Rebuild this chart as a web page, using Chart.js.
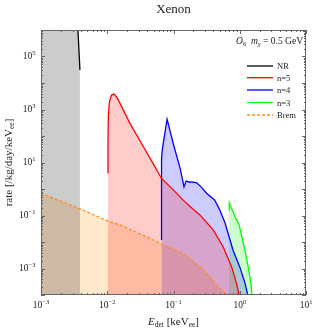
<!DOCTYPE html>
<html>
<head>
<meta charset="utf-8">
<script src="https://cdn.jsdelivr.net/npm/chart.js@4.4.1/dist/chart.umd.min.js"></script>
<style>
  html, body { margin: 0; padding: 0; background: #fff; }
  #wrap { width: 316px; height: 329px; }
</style>
</head>
<body>
<div id="wrap"><canvas id="rateChart" width="316" height="329"></canvas></div>
<script>
// ===== DATA =====
const xTickExps = [-3, -2, -1, 0, 1];
const yTickExps = [5, 3, 1, -1, -3];

const nrE    = [0.001, 0.0034, 0.00361, 0.00387];
const nrRate = [1e8, 3e6, 1e6, 3.1e4];

const n5E    = [0.0102, 0.01025, 0.0104, 0.0108, 0.0116, 0.0126, 0.0141, 0.022, 0.035, 0.049, 0.066, 0.10, 0.14, 0.20, 0.25, 0.40, 0.56, 0.75, 0.89, 0.98];
const n5Rate = [4.1, 60, 600, 2000, 3500, 3800, 2800, 300, 40, 9.3, 2.5, 0.91, 0.38, 0.17, 0.105, 0.028, 0.0066, 0.0012, 0.00028, 0.0001];

const n4E    = [0.066, 0.066, 0.0676, 0.080, 0.099, 0.126, 0.144, 0.155, 0.175, 0.19, 0.224, 0.265, 0.316, 0.42, 0.50, 0.60, 0.79, 1.0, 1.2, 1.32];
const n4Rate = [0.012, 13.5, 30, 430, 52, 6.0, 1.2, 2.0, 1.8, 1.85, 1.7, 1.15, 0.69, 0.38, 0.16, 0.052, 0.005, 0.00115, 0.00028, 0.0001];

const n3E    = [0.69, 0.695, 0.79, 0.89, 0.98, 1.065, 1.19, 1.34, 1.45, 1.53];
const n3Rate = [0.16, 0.30, 0.14, 0.068, 0.044, 0.018, 0.005, 0.00118, 0.00037, 0.0001];

const bremE    = [0.001, 0.0039, 0.0102, 0.0155, 0.044, 0.062, 0.14, 0.25, 0.355, 0.472, 0.63];
const bremRate = [0.69, 0.178, 0.062, 0.044, 0.0138, 0.0089, 0.0037, 0.00117, 0.00049, 0.000204, 0.0001];

const SERIF = '"Liberation Serif", "DejaVu Serif", serif';

function toPts(xs, ys) {
  return xs.map((v, i) => ({ x: v, y: ys[i] }));
}

function series(label, xs, ys, color, fillColor, dash) {
  return {
    label,
    data: toPts(xs, ys),
    showLine: true,
    borderColor: color,
    backgroundColor: fillColor,
    borderWidth: 1.3,
    borderDash: dash || [],
    pointRadius: 0,
    fill: 'start',
    tension: 0
  };
}

// draw a run of text pieces (for sub/superscripts)
function drawRuns(ctx, runs, x, y, align) {
  let w = 0;
  runs.forEach(r => { ctx.font = r.f; r.w = ctx.measureText(r.t).width; w += r.w; });
  let cx = align === 'center' ? x - w / 2 : align === 'right' ? x - w : x;
  ctx.textAlign = 'left';
  ctx.textBaseline = 'alphabetic';
  runs.forEach(r => { ctx.font = r.f; ctx.fillText(r.t, cx, y + (r.dy || 0)); cx += r.w; });
}

function powRuns(e) {
  return [
    { t: '10', f: '9.5px ' + SERIF },
    { t: e < 0 ? '\u2212' + (-e) : String(e), f: '6.5px ' + SERIF, dy: -4 }
  ];
}

// ===== FRAME, TICKS AND TEXT =====
const frameTicks = {
  id: 'frameTicks',
  afterDraw(chart) {
    const { ctx, chartArea: a, scales: { x, y } } = chart;
    ctx.save();
    ctx.strokeStyle = '#666';
    ctx.lineWidth = 1;
    ctx.strokeRect(a.left + 0.5, a.top + 0.5, a.right - a.left - 1, a.bottom - a.top - 1);

    ctx.beginPath();
    for (let d = -3; d <= 1; d++) {
      for (let k = 1; k <= 9; k++) {
        const v = k * Math.pow(10, d);
        if (v > 10) break;
        const px = Math.round(x.getPixelForValue(v)) + 0.5;
        const len = k === 1 ? 4 : 2;
        ctx.moveTo(px, a.bottom); ctx.lineTo(px, a.bottom - len);
        ctx.moveTo(px, a.top); ctx.lineTo(px, a.top + len);
      }
    }
    for (let d = -4; d <= 6; d++) {
      for (let k = 1; k <= 9; k++) {
        const v = k * Math.pow(10, d);
        if (v > 1e6) break;
        const py = Math.round(y.getPixelForValue(v)) + 0.5;
        const len = k === 1 ? 4 : 2;
        ctx.moveTo(a.left, py); ctx.lineTo(a.left + len, py);
        ctx.moveTo(a.right, py); ctx.lineTo(a.right - len, py);
      }
    }
    ctx.stroke();

    ctx.fillStyle = '#222';
    xTickExps.forEach(e => {
      drawRuns(ctx, powRuns(e), x.getPixelForValue(Math.pow(10, e)), a.bottom + 12.5, 'center');
    });
    yTickExps.forEach(e => {
      drawRuns(ctx, powRuns(e), a.left - 5.5, y.getPixelForValue(Math.pow(10, e)) + 2, 'right');
    });

    // title
    drawRuns(ctx, [{ t: 'Xenon', f: '13px ' + SERIF }], (a.left + a.right) / 2, 13, 'center');

    // x label
    drawRuns(ctx, [
      { t: 'E', f: 'italic 11px ' + SERIF },
      { t: 'det', f: '7.5px ' + SERIF, dy: 2 },
      { t: ' [keV', f: '11px ' + SERIF },
      { t: 'ee', f: '7.5px ' + SERIF, dy: 2 },
      { t: ']', f: '11px ' + SERIF }
    ], (a.left + a.right) / 2, 325, 'center');

    // y label
    ctx.save();
    ctx.translate(12, (a.top + a.bottom) / 2);
    ctx.rotate(-Math.PI / 2);
    drawRuns(ctx, [
      { t: 'rate [/kg/day/keV', f: '11px ' + SERIF },
      { t: 'ee', f: '7.5px ' + SERIF, dy: 2 },
      { t: ']', f: '11px ' + SERIF }
    ], 0, 0, 'center');
    ctx.restore();

    // annotation
    drawRuns(ctx, [
      { t: 'O', f: 'italic 9.5px ' + SERIF },
      { t: '6', f: '6.5px ' + SERIF, dy: 2 },
      { t: '  m', f: 'italic 9.5px ' + SERIF },
      { t: '\u03c7', f: 'italic 6.5px ' + SERIF, dy: 2 },
      { t: ' = 0.5 GeV', f: '9.5px ' + SERIF }
    ], 303, 44, 'right');

    // legend
    const rows = [66, 77.7, 90, 102.5, 115];
    chart.data.datasets.forEach((ds, i) => {
      const ly = rows[i];
      ctx.strokeStyle = ds.borderColor;
      ctx.lineWidth = 1.3;
      ctx.setLineDash(ds.borderDash.length ? [3, 2] : []);
      ctx.beginPath();
      ctx.moveTo(247, ly); ctx.lineTo(273, ly);
      ctx.stroke();
      ctx.setLineDash([]);
      ctx.fillStyle = '#222';
      drawRuns(ctx, [{ t: ds.label, f: '8.5px ' + SERIF }], 277, ly + 3, 'left');
    });
    ctx.restore();
  }
};

new Chart(document.getElementById('rateChart'), {
  type: 'scatter',
  data: {
    datasets: [
      series('NR', nrE, nrRate, '#000000', 'rgba(0,0,0,0.2)'),
      series('n=5', n5E, n5Rate, '#ff0000', 'rgba(255,0,0,0.2)'),
      series('n=4', n4E, n4Rate, '#0000ff', 'rgba(0,0,255,0.2)'),
      series('n=3', n3E, n3Rate, '#00ff00', 'rgba(0,255,0,0.2)'),
      series('Brem', bremE, bremRate, '#ff8c1a', 'rgba(255,140,0,0.2)', [3, 2])
    ]
  },
  options: {
    responsive: false,
    animation: false,
    devicePixelRatio: 1,
    layout: { padding: { left: 41, right: 10, top: 30, bottom: 34 } },
    scales: {
      x: { type: 'logarithmic', min: 1e-3, max: 10, display: false },
      y: { type: 'logarithmic', min: 1e-4, max: 1e6, display: false }
    },
    plugins: {
      legend: { display: false },
      tooltip: { enabled: false },
      filler: { drawTime: 'beforeDatasetsDraw' }
    }
  },
  plugins: [frameTicks]
});
</script>
</body>
</html>
